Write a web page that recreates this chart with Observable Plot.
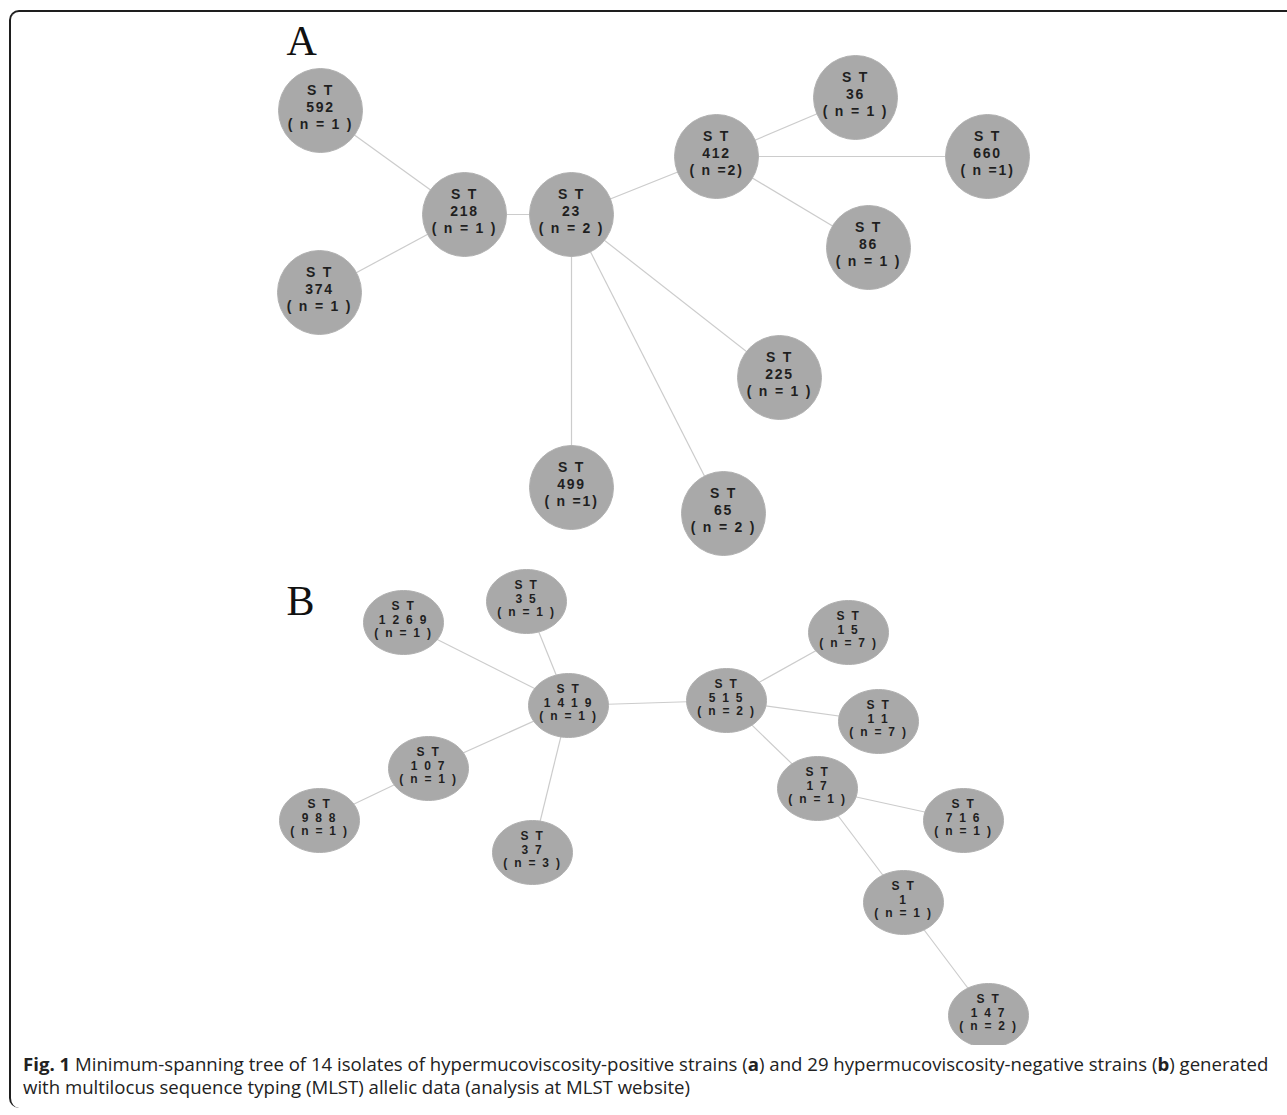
<!DOCTYPE html>
<html>
<head>
<meta charset="utf-8">
<script src="https://cdn.jsdelivr.net/npm/d3@7"></script>
<script src="https://cdn.jsdelivr.net/npm/@observablehq/plot@0.6"></script>
<style>
  html, body { margin: 0; padding: 0; background: #fff; }
  #wrap { position: relative; width: 1287px; height: 1115px; overflow: hidden; }
  #frame { position: absolute; left: 9px; top: 10px; width: 1300px; height: 1098px;
           border-top: 2px solid #1e1e1e; border-left: 2px solid #1e1e1e;
           border-top-left-radius: 10px; border-bottom-left-radius: 10px; box-sizing: border-box; }
  #chart { position: absolute; left: 0; top: 0; }
  #caption { position: absolute; left: 23px; top: 1052px; width: 1252px;
             font-family: "Open Sans", sans-serif; font-size: 18.6px; line-height: 23px; color: #222; }
</style>
</head>
<body>
<div id="wrap">
  <div id="frame"></div>
  <div id="chart"></div>
  <div id="caption"><b>Fig. 1</b> Minimum-spanning tree of 14 isolates of hypermucoviscosity-positive strains (<b>a</b>) and 29 hypermucoviscosity-negative strains (<b>b</b>) generated with multilocus sequence typing (MLST) allelic data (analysis at MLST website)</div>
</div>
<script>
// Panel A nodes (sequence types), their positions in the layout and isolate counts
const stA     = ["592", "218", "374", "23", "412", "36", "660", "86", "225", "499", "65"];
const stTextA = ["592", "218", "374", "23", "412", "36", "660", "86", "225", "499", "65"];
const nTextA  = ["( n = 1 )", "( n = 1 )", "( n = 1 )", "( n = 2 )", "( n =2)", "( n = 1 )", "( n =1)", "( n = 1 )", "( n = 1 )", "( n =1)", "( n = 2 )"];
const xA      = [320, 464, 319, 571, 716, 855, 987, 868, 779, 571, 723];
const yA      = [110, 214, 292, 214, 156, 97, 156, 247, 377, 487, 513];
const edgesA  = [["592","218"],["374","218"],["218","23"],["23","412"],["412","36"],["412","660"],["412","86"],["23","225"],["23","499"],["23","65"]];

// Panel B nodes
const stB     = ["1269", "35", "1419", "107", "988", "37", "515", "15", "11", "17", "716", "1", "147"];
const stTextB = ["1 2 6 9", "3 5", "1 4 1 9", "1 0 7", "9 8 8", "3 7", "5 1 5", "1 5", "1 1", "1 7", "7 1 6", "1", "1 4 7"];
const nTextB  = ["( n = 1 )", "( n = 1 )", "( n = 1 )", "( n = 1 )", "( n = 1 )", "( n = 3 )", "( n = 2 )", "( n = 7 )", "( n = 7 )", "( n = 1 )", "( n = 1 )", "( n = 1 )", "( n = 2 )"];
const xB      = [403, 526, 568, 428, 319, 532, 726, 848, 878, 817, 963, 903, 988];
const yB      = [622, 601, 705, 768, 820, 852, 700, 632, 721, 788, 820, 902, 1015];
const edgesB  = [["1269","1419"],["35","1419"],["1419","107"],["107","988"],["1419","37"],["1419","515"],["515","15"],["515","11"],["515","17"],["17","716"],["17","1"],["1","147"]];

const panelLabels = ["A", "B"];
const panelLabelX = [286, 286];
const panelLabelY = [54, 614];

const W = 1287, H = 1045;

const nodesA = stA.map((id, i) => ({id, st: stTextA[i], n: nTextA[i], x: xA[i], y: yA[i]}));
const nodesB = stB.map((id, i) => ({id, st: stTextB[i], n: nTextB[i], x: xB[i], y: yB[i]}));
const byA = new Map(nodesA.map(d => [d.id, d]));
const byB = new Map(nodesB.map(d => [d.id, d]));
const links = [
  ...edgesA.map(([a, b]) => ({x1: byA.get(a).x, y1: byA.get(a).y, x2: byA.get(b).x, y2: byA.get(b).y})),
  ...edgesB.map(([a, b]) => ({x1: byB.get(a).x, y1: byB.get(a).y, x2: byB.get(b).x, y2: byB.get(b).y}))
];
const labels = panelLabels.map((t, i) => ({t, x: panelLabelX[i], y: panelLabelY[i]}));

// ellipse symbol (width : height = 1 : 0.8)
const ellipse = {
  draw(context, size) {
    const rx = Math.sqrt(size / Math.PI), ry = rx * 0.8;
    const k = 64;
    for (let i = 0; i <= k; i++) {
      const a = (i / k) * 2 * Math.PI;
      const px = rx * Math.cos(a), py = ry * Math.sin(a);
      if (i === 0) context.moveTo(px, py); else context.lineTo(px, py);
    }
    context.closePath();
  }
};

const fill = "#a9a9a9";
const txt = "#1f1f1f";
const fontA = {fontSize: 14, fontWeight: "bold", fontFamily: "Liberation Sans, Arial, sans-serif", fill: txt};
const fontB = {fontSize: 12, fontWeight: "bold", fontFamily: "Liberation Sans, Arial, sans-serif", fill: txt};

const chart = Plot.plot({
  width: W, height: H,
  margin: 0,
  x: {domain: [0, W], range: [0, W], axis: null},
  y: {domain: [0, H], range: [0, H], axis: null},
  style: {background: "transparent"},
  marks: [
    Plot.link(links, {x1: "x1", y1: "y1", x2: "x2", y2: "y2", stroke: "#cccccc", strokeWidth: 1.2}),
    Plot.dot(nodesA, {x: "x", y: "y", r: 42, fill, stroke: "#b0b0b0", strokeWidth: 1}),
    Plot.dot(nodesB, {x: "x", y: "y", r: 40, symbol: ellipse, fill, stroke: "#b0b0b0", strokeWidth: 1}),
    Plot.text(nodesA, {x: "x", y: "y", text: () => "S T", dy: -20, ...fontA}),
    Plot.text(nodesA, {x: "x", y: "y", text: "st", dy: -3, ...fontA}),
    Plot.text(nodesA, {x: "x", y: "y", text: "n", dy: 14, ...fontA}),
    Plot.text(nodesB, {x: "x", y: "y", text: () => "S T", dy: -16, ...fontB}),
    Plot.text(nodesB, {x: "x", y: "y", text: "st", dy: -2.5, ...fontB}),
    Plot.text(nodesB, {x: "x", y: "y", text: "n", dy: 11, ...fontB}),
    Plot.text(labels, {x: "x", y: "y", text: "t", textAnchor: "start", lineAnchor: "bottom", fontSize: 42, fontFamily: "Liberation Serif, Times New Roman, serif", fill: "#111"})
  ]
});
d3.select(chart).selectAll("g[aria-label=text]").filter((d, i) => i < 6).style("letter-spacing", "1.8px");
document.getElementById("chart").appendChild(chart);
</script>
</body>
</html>
